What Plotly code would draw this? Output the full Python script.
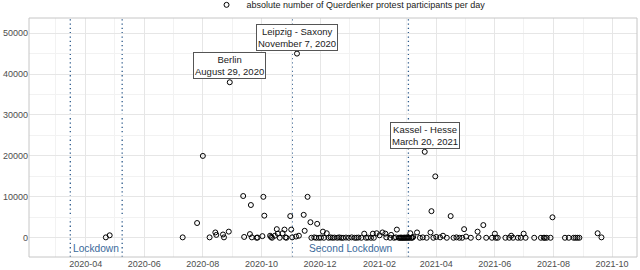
import plotly.graph_objects as go
import pandas as pd

# ---- data ----
dates = [
    "2020-04-22", "2020-04-26", "2020-07-11", "2020-07-26", "2020-08-01", "2020-08-08",
    "2020-08-14", "2020-08-15", "2020-08-22", "2020-08-23", "2020-08-28", "2020-08-29",
    "2020-09-12", "2020-09-13", "2020-09-19", "2020-09-20", "2020-09-21", "2020-09-26",
    "2020-09-27", "2020-10-02", "2020-10-03", "2020-10-04", "2020-10-10", "2020-10-11",
    "2020-10-12", "2020-10-15", "2020-10-17", "2020-10-18", "2020-10-20", "2020-10-23",
    "2020-10-25", "2020-10-26", "2020-10-27", "2020-10-31", "2020-11-01", "2020-11-02",
    "2020-11-06", "2020-11-07", "2020-11-09", "2020-11-14", "2020-11-15", "2020-11-18",
    "2020-11-21", "2020-11-22", "2020-11-25", "2020-11-27", "2020-11-28", "2020-11-30",
    "2020-12-02", "2020-12-04", "2020-12-05", "2020-12-08", "2020-12-10", "2020-12-12",
    "2020-12-14", "2020-12-16", "2020-12-19", "2020-12-21", "2020-12-23", "2020-12-25",
    "2020-12-28", "2020-12-31", "2021-01-03", "2021-01-06", "2021-01-08", "2021-01-10",
    "2021-01-13", "2021-01-16", "2021-01-18", "2021-01-20", "2021-01-23", "2021-01-25",
    "2021-01-26", "2021-01-29", "2021-02-01", "2021-02-04", "2021-02-07", "2021-02-08",
    "2021-02-12", "2021-02-13", "2021-02-16", "2021-02-18", "2021-02-19", "2021-02-21",
    "2021-02-22", "2021-02-23", "2021-02-24", "2021-02-25", "2021-02-26", "2021-02-27",
    "2021-02-28", "2021-03-01", "2021-03-02", "2021-03-03", "2021-03-04", "2021-03-05",
    "2021-03-06", "2021-03-07", "2021-03-08", "2021-03-12", "2021-03-15", "2021-03-18",
    "2021-03-20", "2021-03-22", "2021-03-26", "2021-03-27", "2021-03-29", "2021-03-31",
    "2021-04-01", "2021-04-05", "2021-04-08", "2021-04-12", "2021-04-16", "2021-04-19",
    "2021-04-22", "2021-04-25", "2021-04-28", "2021-04-30", "2021-05-02", "2021-05-07",
    "2021-05-14", "2021-05-15", "2021-05-20", "2021-05-23", "2021-05-29", "2021-06-01",
    "2021-06-02", "2021-06-04", "2021-06-12", "2021-06-16", "2021-06-18", "2021-06-20",
    "2021-06-25", "2021-06-28", "2021-07-01", "2021-07-03", "2021-07-12", "2021-07-19",
    "2021-07-22", "2021-07-23", "2021-07-25", "2021-07-29", "2021-07-31", "2021-08-13",
    "2021-08-17", "2021-08-22", "2021-08-24", "2021-08-26", "2021-08-28", "2021-09-16",
    "2021-09-20",
]
participants = [
    100, 600, 100, 3600, 20000, 100,
    1300, 700, 800, 100, 1500, 38000,
    10200, 200, 900, 8000, 100, 0,
    50, 400, 10000, 5400, 500, 200,
    0, 500, 2100, 1000, 0, 1100,
    2000, 100, 0, 5300, 2000, 100,
    300, 45000, 500, 5600, 1700, 10000,
    3800, 0, 100, 0, 3400, 0,
    50, 1500, 0, 1100, 0, 100,
    0, 50, 0, 100, 0, 0,
    50, 0, 100, 0, 0, 50,
    0, 1000, 0, 50, 0, 1000,
    0, 1100, 600, 1300, 1000, 100,
    0, 700, 0, 100, 2000, 0,
    0, 50, 0, 0, 0, 50,
    0, 0, 100, 0, 0, 1100,
    0, 0, 200, 1300, 0, 100,
    21000, 0, 1300, 6500, 0, 15000,
    200, 100, 500, 0, 5300, 0,
    100, 0, 0, 2100, 300, 0,
    1500, 100, 3100, 0, 0, 1000,
    0, 0, 0, 0, 500, 0,
    0, 0, 1000, 0, 0, 0,
    0, 0, 0, 0, 5000, 0,
    0, 0, 0, 0, 0, 1100,
    100,
]

lockdown_periods = [("2020-03-16", "2020-05-09", "Lockdown"),
                    ("2020-11-02", "2021-03-03", "Second Lockdown")]
events_dates = ["2020-08-29", "2020-11-07", "2021-03-20"]
events_values = [38000, 45000, 21000]
events_labels = ["Berlin<br>August 29, 2020", "Leipzig - Saxony<br>November 7, 2020",
                 "Kassel - Hesse<br>March 20, 2021"]

y_ticks = [0, 10000, 20000, 30000, 40000, 50000]

# ---- figure ----
FONT = "Liberation Sans, Arial, Helvetica, sans-serif"
LINE_COL = "#2e5b8c"
TEXT_COL = "#3b6a9b"

fig = go.Figure()
fig.add_trace(go.Scatter(
    x=pd.to_datetime(dates), y=participants, mode="markers",
    name="absolute number of Querdenker protest participants per day",
    marker=dict(symbol="circle-open", size=5, color="#000000", line=dict(width=1, color="#000000")),
    hoverinfo="x+y",
))

shapes = []
annotations = []
for start, end, label in lockdown_periods:
    for d in (start, end):
        shapes.append(dict(type="line", xref="x", yref="paper", x0=d, x1=d, y0=0, y1=1,
                           line=dict(color=LINE_COL, width=1.3, dash="1.3px,3px"), layer="below"))
    mid = pd.Timestamp(start) + (pd.Timestamp(end) - pd.Timestamp(start)) / 2
    annotations.append(dict(x=mid, y=-2500, xref="x", yref="y", text=label, showarrow=False,
                            font=dict(family=FONT, size=10.2, color=TEXT_COL),
                            xanchor="center", yanchor="middle"))

for d, v, lab in zip(events_dates, events_values, events_labels):
    annotations.append(dict(x=d, y=v, xref="x", yref="y", text=lab, showarrow=False,
                            xanchor="center", yanchor="bottom", yshift=3,
                            font=dict(family=FONT, size=9.5, color="#222222"),
                            bgcolor="#ffffff", bordercolor="#555555", borderwidth=1,
                            borderpad=1))

# panel border
shapes.append(dict(type="rect", xref="paper", yref="paper", x0=0, x1=1, y0=0, y1=1,
                   line=dict(color="#c6c6c6", width=1), layer="above"))

fig.update_layout(
    width=640, height=270,
    margin=dict(l=29, r=3, t=18, b=13, autoexpand=False),
    paper_bgcolor="#ffffff", plot_bgcolor="#ffffff",
    font=dict(family=FONT, size=9, color="#4d4d4d"),
    showlegend=True,
    legend=dict(orientation="h", x=0.292, xanchor="left", y=1.055, yanchor="middle",
                font=dict(family=FONT, size=9, color="#1a1a1a"),
                bgcolor="rgba(0,0,0,0)", itemwidth=30),
    shapes=shapes, annotations=annotations,
    xaxis=dict(type="date", range=["2020-02-02", "2021-10-27"],
               tickmode="linear", tick0="2020-04-01", dtick="M2", tickformat="%Y-%m",
               showgrid=True, gridcolor="#e6e6e6", gridwidth=1,
               minor=dict(tick0="2020-03-01", dtick="M1", showgrid=True,
                          gridcolor="#f2f2f2", gridwidth=0.8),
               ticks="", showline=False, zeroline=False, ticklabelstandoff=0,
               tickfont=dict(family=FONT, size=9, color="#4d4d4d"), automargin=False),
    yaxis=dict(range=[-4700, 53700], tickvals=y_ticks, ticktext=[str(t) for t in y_ticks],
               showgrid=True, gridcolor="#e6e6e6", gridwidth=1,
               minor=dict(tickvals=[-5000, 5000, 15000, 25000, 35000, 45000], showgrid=True,
                          gridcolor="#f2f2f2", gridwidth=0.8),
               ticks="", showline=False, zeroline=False,
               tickfont=dict(family=FONT, size=9, color="#4d4d4d"), automargin=False),
)

fig.write_html("out.html", config={"displayModeBar": False},
               post_script="document.body.style.margin='0px';")
